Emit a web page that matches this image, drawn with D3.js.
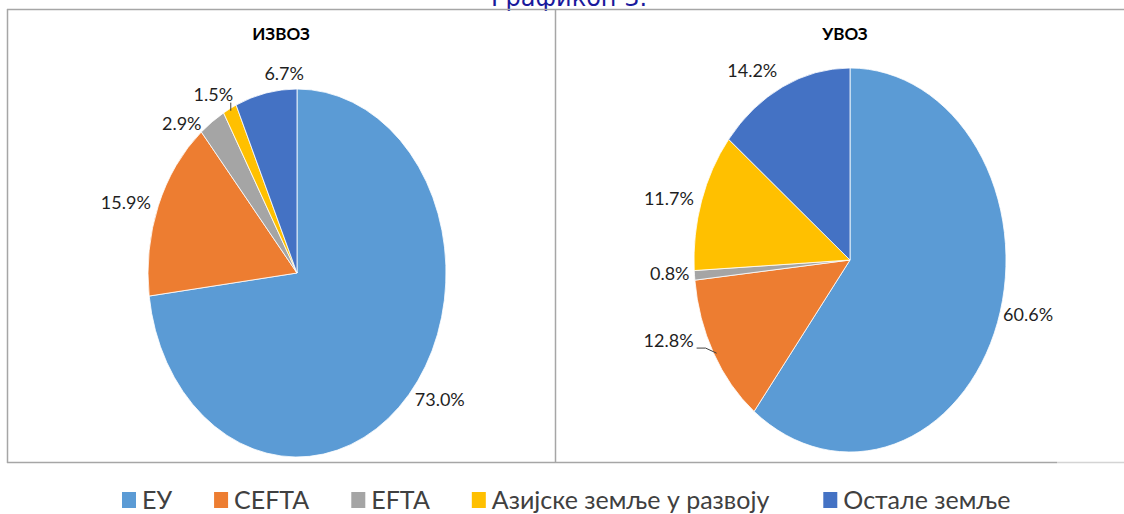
<!DOCTYPE html>
<html>
<head>
<meta charset="utf-8">
<script src="https://cdn.jsdelivr.net/npm/d3@7"></script>
<style>
  html, body { margin: 0; padding: 0; background: #fff; }
  svg { display: block; }
</style>
</head>
<body>
<svg id="chart" width="1124" height="514"></svg>
<script>
// ---- data ----
const categories = ["ЕУ", "CEFTA", "EFTA", "Азијске земље у развоју", "Остале земље"];
const exportValues = [73.0, 15.9, 2.9, 1.5, 6.7];
const importValues = [60.6, 12.8, 0.8, 11.7, 14.2];
const chartTitles = ["ИЗВОЗ", "УВОЗ"];
const pageTitle = "Графикон 3.";

// ---- styles / layout ----
const colors = ["#5B9BD5", "#ED7D31", "#A5A5A5", "#FFC000", "#4472C4"];
const labelFont = "Lato, 'Open Sans', sans-serif";
const frameColor = "#a6a6a6";

const panels = [
  { title: chartTitles[0], values: exportValues, cx: 297, cy: 273, rx: 149, ry: 184, titleX: 281,
    nudge: [[0,0],[0,0],[-6,9],[7,-7],[20,-11]], leader: [false,false,false,true,false] },
  { title: chartTitles[1], values: importValues, cx: 850, cy: 260, rx: 156, ry: 192, titleX: 845,
    nudge: [[-2,-10],[-13,-16],[3,-2],[0,0],[-2,-9]], leader: [false,true,false,false,false] }
];

const svg = d3.select("#chart");

// page title (clipped at the top, as in the source)
svg.append("text")
  .attr("x", 569).attr("y", 6)
  .attr("text-anchor", "middle")
  .attr("font-family", "'DejaVu Sans', Verdana, sans-serif")
  .attr("font-size", 24)
  .attr("fill", "#1a1a9c")
  .text(pageTitle);

// frames
const frame = svg.append("g").attr("fill", "none").attr("stroke", frameColor).attr("stroke-width", 1.5);
frame.append("line").attr("x1", 7).attr("x2", 1124).attr("y1", 9.5).attr("y2", 9.5);
frame.append("line").attr("x1", 7.5).attr("x2", 7.5).attr("y1", 9).attr("y2", 463);
frame.append("line").attr("x1", 555.5).attr("x2", 555.5).attr("y1", 9).attr("y2", 463);
frame.append("line").attr("x1", 7).attr("x2", 1057).attr("y1", 462.5).attr("y2", 462.5);
frame.append("line").attr("x1", 1057).attr("x2", 1124).attr("y1", 462.5).attr("y2", 462.5).attr("stroke", "#d4d4d4");

const pie = d3.pie().sort(null).value(d => d);

panels.forEach(p => {
  const g = svg.append("g");
  g.append("text")
    .attr("x", p.titleX).attr("y", 40)
    .attr("text-anchor", "middle")
    .attr("font-family", labelFont)
    .attr("font-weight", "bold")
    .attr("font-size", 17)
    .attr("fill", "#000")
    .text(p.title);

  const arcs = pie(p.values);
  const arc = d3.arc().innerRadius(0).outerRadius(p.ry);
  const sx = p.rx / p.ry;

  g.append("g")
    .attr("transform", `translate(${p.cx},${p.cy}) scale(${sx},1)`)
    .selectAll("path")
    .data(arcs)
    .join("path")
    .attr("d", arc)
    .attr("fill", (d, i) => colors[i])
    .attr("stroke", "#fff")
    .attr("stroke-width", 0.8)
    .attr("vector-effect", "non-scaling-stroke");

  arcs.forEach((d, i) => {
    const a = (d.startAngle + d.endAngle) / 2;
    const s = Math.sin(a), c = -Math.cos(a);
    const ex = p.cx + s * p.rx, ey = p.cy + c * p.ry;
    let x = p.cx + s * (p.rx + 8);
    let y = p.cy + c * (p.ry + 8) + 6;
    const anchor = s > 0.3 ? "start" : (s < -0.3 ? "end" : "middle");
    x += p.nudge[i][0];
    y += p.nudge[i][1];
    const t = g.append("text")
      .attr("x", x).attr("y", y)
      .attr("text-anchor", anchor)
      .attr("font-family", labelFont)
      .attr("font-size", 18)
      .attr("fill", "#1f1f1f")
      .text(d3.format(".1f")(d.data) + "%");
    if (p.leader[i]) {
      const bb = t.node().getBBox();
      let pts;
      if (Math.abs(c) > 0.8) {
        pts = [[ex + 1, bb.y + bb.height - 2], [ex + 1, ey + 2]];
      } else {
        const lx = bb.x + bb.width + 3, ly = bb.y + bb.height - 3;
        pts = [[lx, ly], [lx + 9, ly], [ex + 3, ey]];
      }
      g.append("path")
        .attr("d", d3.line()(pts))
        .attr("fill", "none")
        .attr("stroke", "#404040")
        .attr("stroke-width", 1);
    }
  });
});

// legend
const legend = svg.append("g").attr("transform", "translate(122,0)");
let lx = 0;
const gaps = [42, 42, 42, 54];
categories.forEach((cat, i) => {
  const it = legend.append("g").attr("transform", `translate(${lx},0)`);
  it.append("rect").attr("x", 0).attr("y", 492).attr("width", 14).attr("height", 16).attr("fill", colors[i]);
  const t = it.append("text")
    .attr("x", 20).attr("y", 509)
    .attr("font-family", labelFont)
    .attr("font-size", 25)
    .attr("fill", "#404040")
    .text(cat);
  const w = t.node().getComputedTextLength();
  lx += 20 + w + (gaps[i] || 0);
});
</script>
</body>
</html>
